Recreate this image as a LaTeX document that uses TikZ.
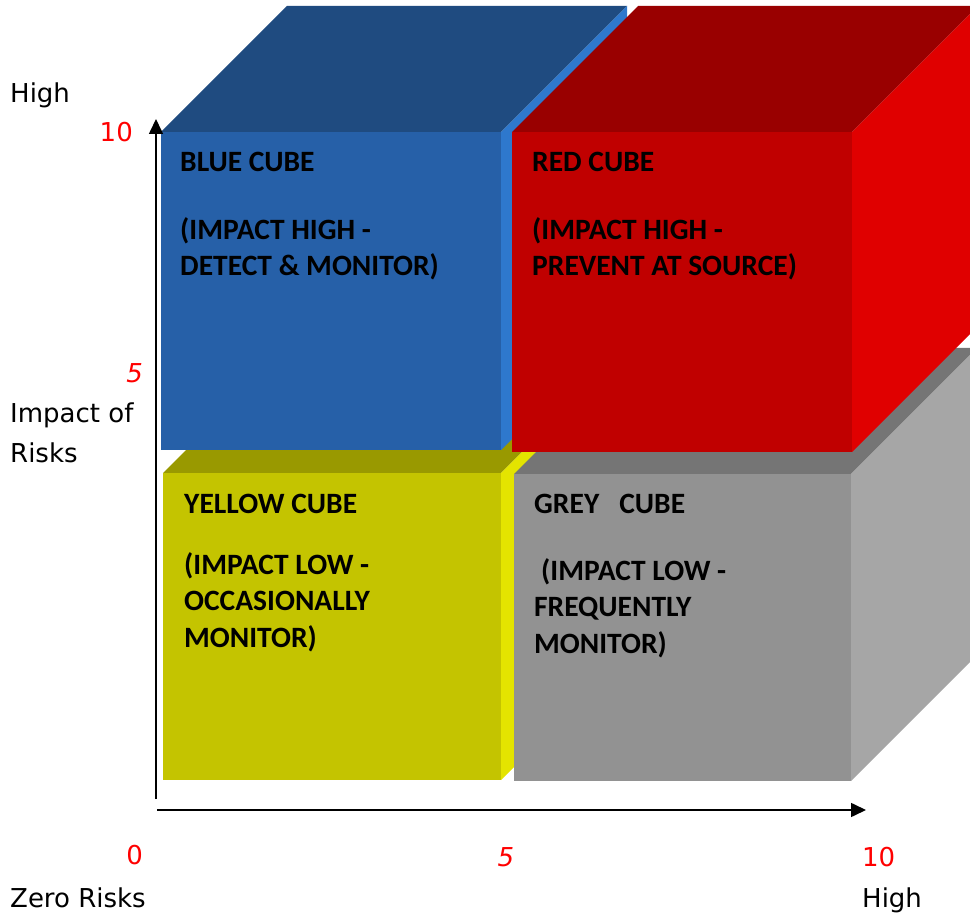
\documentclass[tikz,border=0pt]{standalone}
\usepackage{fontspec}
\setmainfont{DejaVu Sans}
\newfontfamily\cubefont{Carlito}
\usetikzlibrary{arrows.meta}

% face colours of the four cubes
\definecolor{bluefront}{RGB}{38,96,168}
\definecolor{bluetop}{RGB}{31,75,128}
\definecolor{blueside}{RGB}{46,120,205}
\definecolor{redfront}{RGB}{192,0,0}
\definecolor{redtop}{RGB}{153,0,0}
\definecolor{redside}{RGB}{224,0,0}
\definecolor{yellowfront}{RGB}{196,196,0}
\definecolor{yellowtop}{RGB}{153,153,0}
\definecolor{yellowside}{RGB}{228,228,0}
\definecolor{greyfront}{RGB}{146,146,146}
\definecolor{greytop}{RGB}{117,117,117}
\definecolor{greyside}{RGB}{166,166,166}
\definecolor{scalered}{RGB}{255,0,0}

% depth of the oblique projection
\def\dep{126}

% \riskcube{x1}{y1}{x2}{y2}{colour prefix}: front face (x1,y1)-(x2,y2)
\newcommand{\riskcube}[5]{%
  \fill[#5top]  (#1,#2) -- ++(\dep,-\dep) -- ++(#3-#1,0) -- (#3,#2) -- cycle;
  \fill[#5side] (#3,#2) -- ++(\dep,-\dep) -- ++(0,#4-#2) -- (#3,#4) -- cycle;
  \fill[#5front] (#1,#2) rectangle (#3,#4);
}

% multi-line nodes are anchored at the baseline of their last line
\tikzset{
  cubetext/.style={anchor=base west, inner sep=0pt, align=left,
    font=\cubefont\bfseries\fontsize{29.5}{36.5}\selectfont},
  axislabel/.style={inner sep=0pt, align=left,
    font=\fontsize{26}{40}\selectfont},
  scalelabel/.style={inner sep=0pt, text=scalered,
    font=\fontsize{26}{30}\selectfont},
  axisline/.style={line width=1.6pt, -{Triangle[length=15pt,width=14pt]}},
}

\begin{document}
\begin{tikzpicture}[x=1pt,y=-1pt]
  \clip (0,0) rectangle (970,917);

  % lower row first, upper row in front of it
  \riskcube{163}{473}{501}{780}{yellow}
  \riskcube{514}{474}{851}{781}{grey}
  \riskcube{161}{132}{501}{450}{blue}
  \riskcube{512}{132}{852}{452}{red}

  % cube captions
  \node[cubetext] (bluetitle) at (180,172) {BLUE CUBE};
  \node[cubetext] (bluebody)  at (180,276) {(IMPACT HIGH -\\DETECT \& MONITOR)};
  \node[cubetext] (redtitle)  at (532,172) {RED CUBE};
  \node[cubetext] (redbody)   at (532,276) {(IMPACT HIGH -\\PREVENT AT SOURCE)};
  \node[cubetext] (yellowtitle) at (184,513) {YELLOW CUBE};
  \node[cubetext] (yellowbody)  at (184,647) {(IMPACT LOW -\\OCCASIONALLY\\MONITOR)};
  \node[cubetext] (greytitle) at (534,513) {GREY\ \ \ CUBE};
  \node[cubetext] (greybody)  at (534,653) {\hspace*{7pt}(IMPACT LOW -\\FREQUENTLY\\MONITOR)};

  % axes
  \coordinate (yfoot) at (156,799);
  \coordinate (ytip)  at (156,119);
  \coordinate (xfoot) at (157,810);
  \coordinate (xtip)  at (866,810);
  \draw[axisline] (yfoot) -- (ytip);
  \draw[axisline] (xfoot) -- (xtip);

  % vertical axis labels
  \node[axislabel, anchor=base west] (yhigh) at (10,103) {High};
  \node[scalelabel, anchor=base east] (yten) at (133,142) {10};
  \node[scalelabel, anchor=base east, font=\fontsize{26}{30}\selectfont\itshape] (yfive) at (143,383) {5};
  \node[axislabel, anchor=base west] (ytitle) at (10,463) {Impact of\\Risks};

  % horizontal axis labels
  \node[scalelabel, anchor=base east] (xzero) at (143,864) {0};
  \node[axislabel, anchor=base west] (xtitle) at (10,907) {Zero Risks};
  \node[scalelabel, anchor=base, font=\fontsize{26}{30}\selectfont\itshape] (xfive) at (506,866) {5};
  \node[scalelabel, anchor=base west] (xten) at (862,866) {10};
  \node[axislabel, anchor=base west] (xhigh) at (862,907) {High};
\end{tikzpicture}
\end{document}
